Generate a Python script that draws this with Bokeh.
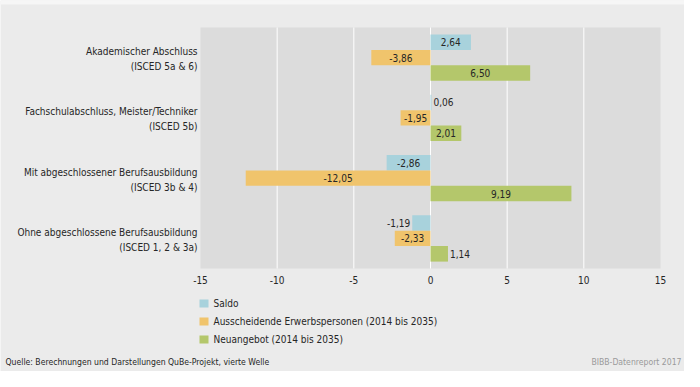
from bokeh.plotting import figure
from bokeh.models import Range1d, ColumnDataSource
from bokeh.core.properties import value
from bokeh.embed import file_html
from bokeh.resources import INLINE

# ---- data ----
cat_line1 = ["Akademischer Abschluss",
             "Fachschulabschluss, Meister/Techniker",
             "Mit abgeschlossener Berufsausbildung",
             "Ohne abgeschlossene Berufsausbildung"]
cat_line2 = ["(ISCED 5a & 6)", "(ISCED 5b)", "(ISCED 3b & 4)", "(ISCED 1, 2 & 3a)"]
saldo = [2.64, 0.06, -2.86, -1.19]
ausscheidende = [-3.86, -1.95, -12.05, -2.33]
neuangebot = [6.50, 2.01, 9.19, 1.14]
series_names = ["Saldo", "Ausscheidende Erwerbspersonen (2014 bis 2035)", "Neuangebot (2014 bis 2035)"]
series_colors = ["#a8d2dc", "#f0c46c", "#b4c76b"]
tick_values = [-15, -10, -5, 0, 5, 10, 15]
tick_labels = ["-15", "-10", "-5", "0", "5", "10", "15"]
source_text = "Quelle: Berechnungen und Darstellungen QuBe-Projekt, vierte Welle"
credit_text = "BIBB-Datenreport 2017"

FONT = value("DejaVu Sans Condensed")
FS = "10px"
TXT = "#262626"
W, H = 684, 371

# layout: plot area in pixels
PL, PR, PT, PB = 200, 660, 27, 268
xmin, xmax = tick_values[0], tick_values[-1]
ncat = len(cat_line1)
sx = (PR - PL) / (xmax - xmin)          # px per x unit
sy = (PB - PT) / ncat                   # px per category
def X(px): return xmin + (px - PL) / sx
def Y(px): return (px - PT) / sy

p = figure(width=W, height=H, output_backend="svg", toolbar_location=None,
           x_range=Range1d(X(0), X(W)), y_range=Range1d(Y(H), Y(0)),
           min_border=0)
p.axis.visible = False
p.grid.visible = False
p.background_fill_color = "#ebebeb"
p.border_fill_color = "#ebebeb"
p.outline_line_color = None

# light strip at the very top
p.quad(left=X(0), right=X(W), top=Y(0), bottom=Y(4), fill_color="#f6f6f6", line_color=None)

# plot area
p.quad(left=xmin, right=xmax, top=0, bottom=ncat, fill_color="#dcdcdc", line_color=None)
inner = tick_values[1:-1]
p.segment(x0=inner, x1=inner, y0=[0] * len(inner), y1=[ncat] * len(inner),
          line_color="white", line_width=1)

# tick labels
p.text(x=tick_values, y=[Y(PB + 11)] * len(tick_values), text=tick_labels,
       text_align="center", text_baseline="middle", text_font=FONT,
       text_font_size=FS, text_color=TXT)

bar_h = 0.257
offsets = [-bar_h, 0.0, bar_h]
all_series = [saldo, ausscheidende, neuangebot]
for vals, off, col in zip(all_series, offsets, series_colors):
    ys = [i + 0.5 + off for i in range(len(vals))]
    p.hbar(y=ys, left=0, right=vals, height=bar_h, fill_color=col, line_color=None)
    xs, al, txt = [], [], []
    for v in vals:
        txt.append(f"{v:.2f}".replace(".", ","))
        if abs(v) >= 1.5:
            xs.append(v / 2); al.append("center")
        else:
            xs.append(v + (2 / sx if v >= 0 else -2 / sx)); al.append("left" if v >= 0 else "right")
    src = ColumnDataSource(dict(x=xs, y=ys, al=al, t=txt))
    p.text(x="x", y="y", text="t", text_align="al", source=src,
           text_baseline="middle", text_font=FONT, text_font_size=FS,
           text_color=TXT)

# category labels
cx = [X(PL - 3)] * ncat
p.text(x=cx, y=[i + 0.5 - 6 / sy for i in range(ncat)], text=cat_line1,
       text_align="right", text_baseline="middle", text_font=FONT,
       text_font_size=FS, text_color=TXT)
p.text(x=cx, y=[i + 0.5 + 9 / sy for i in range(ncat)], text=cat_line2,
       text_align="right", text_baseline="middle", text_font=FONT,
       text_font_size=FS, text_color=TXT)

# legend
leg_y = [Y(303 + 18 * k) for k in range(len(series_names))]
p.rect(x=[X(PL + 3.5)] * 3, y=leg_y, width=9 / sx, height=8 / sy,
       fill_color=series_colors, line_color=None)
p.text(x=[X(PL + 13)] * 3, y=leg_y, text=series_names, text_align="left",
       text_baseline="middle", text_font=FONT, text_font_size=FS,
       text_color=TXT)

# footer
p.text(x=[X(5)], y=[Y(361)], text=[source_text], text_align="left",
       text_baseline="middle", text_font=FONT, text_font_size="8.6px", text_color=TXT)
p.text(x=[X(W - 3)], y=[Y(361)], text=[credit_text], text_align="right",
       text_baseline="middle", text_font=FONT, text_font_size="8.6px", text_color="#9a9a9a")

open("out.html", "w").write(file_html(p, INLINE))
